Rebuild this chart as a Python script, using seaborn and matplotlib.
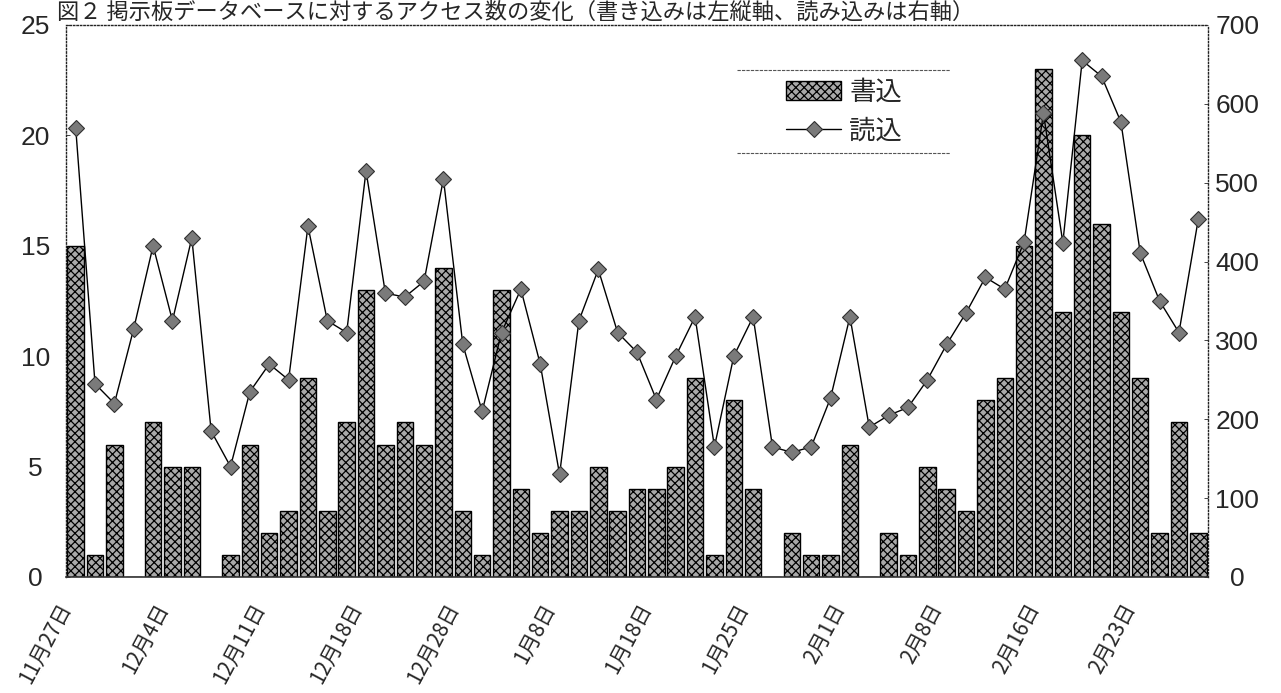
import matplotlib
matplotlib.use("Agg")
import matplotlib.pyplot as plt
import matplotlib.transforms as mtransforms
from matplotlib.lines import Line2D
from matplotlib.patches import Patch
import pandas as pd
import seaborn as sns

sns.set_theme(style="white")
plt.rcParams["font.family"] = ["Noto Sans CJK JP", "DejaVu Sans"]
plt.rcParams["hatch.linewidth"] = 0.9

# Daily write counts (left axis) and read counts (right axis), one per business day
writes = [15, 1, 6, 0, 7, 5, 5, 0, 1, 6,
          2, 3, 9, 3, 7, 13, 6, 7, 6, 14,
          3, 1, 13, 4, 2, 3, 3, 5, 3, 4,
          4, 5, 9, 1, 8, 4, 0, 2, 1, 1,
          6, 0, 2, 1, 5, 4, 3, 8, 9, 15,
          23, 12, 20, 16, 12, 9, 2, 7, 2]
reads = [570, 245, 220, 315, 420, 325, 430, 185, 140, 235,
         270, 250, 445, 325, 310, 515, 360, 355, 375, 505,
         295, 210, 310, 365, 270, 130, 325, 390, 310, 285,
         225, 280, 330, 165, 280, 330, 165, 158, 165, 227,
         330, 190, 205, 215, 250, 295, 335, 380, 365, 425,
         588, 424, 655, 635, 577, 411, 350, 310, 454]
date_labels = ["11月27日", "12月4日", "12月11日", "12月18日", "12月28日", "1月8日",
               "1月18日", "1月25日", "2月1日", "2月8日", "2月16日", "2月23日"]
write_ticks = [0, 5, 10, 15, 20, 25]
read_ticks = [0, 100, 200, 300, 400, 500, 600, 700]
title = "図２ 掲示板データベースに対するアクセス数の変化（書き込みは左縦軸、読み込みは右軸）"

days = list(range(len(writes)))
df = pd.DataFrame({"day": days, "書込": writes, "読込": reads})

BAR_FACE = "#a9a9a9"
HATCH = "xxxx"
MARKER_FACE = "#7a7a7a"

W, H = 1281, 693
fig = plt.figure(figsize=(W / 100, H / 100), dpi=100)
fig.patch.set_facecolor("white")
ax = fig.add_axes([66 / W, 116 / H, 1142 / W, 552 / H])

sns.barplot(data=df, x="day", y="書込", ax=ax, color=BAR_FACE, edgecolor="black",
            linewidth=1.0, width=0.85, saturation=1)
for p in ax.patches:
    p.set_hatch(HATCH)

ax2 = ax.twinx()
sns.lineplot(data=df, x="day", y="読込", ax=ax2, color="black", lw=1.0, sort=False,
             marker="D", markersize=8.5, markerfacecolor=MARKER_FACE,
             markeredgecolor="#303030", markeredgewidth=0.8)

ax.set_xlim(-0.5, len(days) - 0.5)
ax.set_ylim(0, 25)
ax2.set_ylim(0, 700)
ax.set_xlabel("")
ax.set_ylabel("")
ax2.set_xlabel("")
ax2.set_ylabel("")

num_font = ["Liberation Sans Narrow", "Liberation Sans", "DejaVu Sans"]
ax.set_yticks(write_ticks)
ax.set_yticklabels([str(t) for t in write_ticks], family=num_font, fontsize=19, ha="center")
ax2.set_yticks(read_ticks)
ax2.set_yticklabels([str(t) for t in read_ticks], family=num_font, fontsize=19, ha="center")
ax.tick_params(axis="y", direction="in", length=3, width=0.6, pad=22, left=True)
ax2.tick_params(axis="y", direction="in", length=3, width=0.6, pad=21, right=True)

ax.set_xticks(days[::5])
ax.set_xticklabels(date_labels, rotation=62, ha="right", va="center",
                   rotation_mode="anchor", fontsize=15)
ax.tick_params(axis="x", length=0, pad=20)
shift = mtransforms.ScaledTranslation(-9 / 100, 0, fig.dpi_scale_trans)
for lbl in ax.get_xticklabels():
    lbl.set_transform(lbl.get_transform() + shift)

for a in (ax, ax2):
    for s in a.spines.values():
        s.set_visible(False)
for side in ("left", "top", "right"):
    sp = ax2.spines[side]
    sp.set_visible(True)
    sp.set_linestyle((0, (1, 1.5)))
    sp.set_linewidth(1.0)
    sp.set_color("#222222")
ax2.spines["bottom"].set_visible(True)
ax2.spines["bottom"].set_linewidth(1.2)
ax2.spines["bottom"].set_color("#333333")
ax.grid(False)
ax2.grid(False)

handles = [Patch(facecolor=BAR_FACE, edgecolor="black", hatch=HATCH, linewidth=1.0),
           Line2D([], [], color="black", lw=1.0, marker="D", markersize=8.5,
                  markerfacecolor=MARKER_FACE, markeredgecolor="#303030",
                  markeredgewidth=0.8)]
ax2.legend(handles, ["書込", "読込"], loc="upper left",
           bbox_to_anchor=((786 - 66) / 1142, (577 - 79) / 552), frameon=False,
           fontsize=19, handlelength=2.1, handleheight=0.75, handletextpad=0.3,
           labelspacing=0.45, borderpad=0, borderaxespad=0)
for yl in ((577 - 70) / 552, (577 - 153) / 552):
    ax2.plot([(737 - 66) / 1142, (950 - 66) / 1142], [yl, yl], transform=ax2.transAxes,
             color="#555555", lw=0.8, ls=(0, (3, 1)), clip_on=False)

fig.text(57 / W, 1 - 19 / H, title, fontsize=16, va="baseline", ha="left")

fig.savefig("out.png", dpi=100, facecolor="white")
